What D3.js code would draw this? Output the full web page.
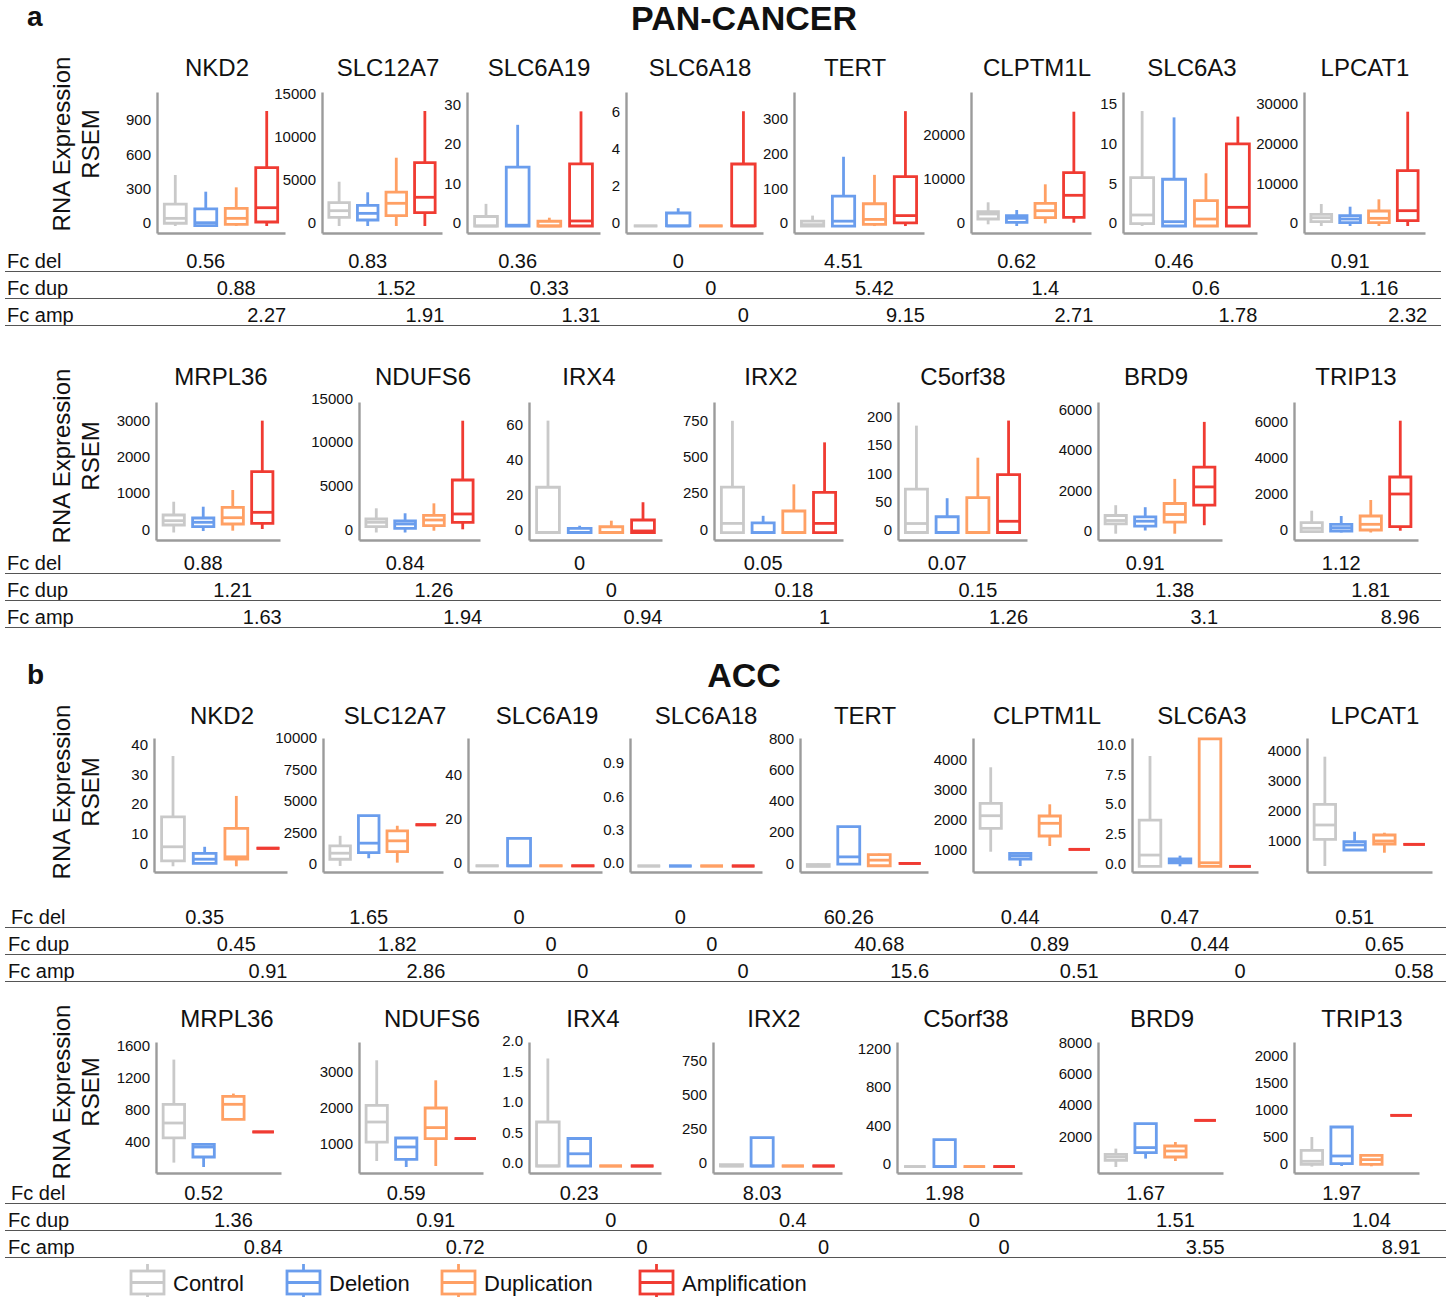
<!DOCTYPE html>
<html>
<head>
<meta charset="utf-8">
<script src="https://cdn.jsdelivr.net/npm/d3@7"></script>
<style>
  body { margin: 0; background: #fff; }
  svg { display: block; }
  text { font-family: "Liberation Sans", Arial, Helvetica, sans-serif; fill: #111; }
</style>
</head>
<body>
<svg id="fig" width="1455" height="1297"></svg>
<script>
// ---- categories ----
const groups = ["Control", "Deletion", "Duplication", "Amplification"];
const groupColors = ["#c9c9c9", "#6a9ded", "#ffa064", "#f03b32"];
const genesRow1 = ["NKD2", "SLC12A7", "SLC6A19", "SLC6A18", "TERT", "CLPTM1L", "SLC6A3", "LPCAT1"];
const genesRow2 = ["MRPL36", "NDUFS6", "IRX4", "IRX2", "C5orf38", "BRD9", "TRIP13"];
const fcLabels = ["Fc del", "Fc dup", "Fc amp"];

// ---- box statistics per gene: [min, q1, median, q3, max] for each group ----
const panRow1Stats = [
  [[0, 24, 67, 192, 446], [0, 3, 29, 149, 300], [0, 15, 67, 155, 338], [0, 35, 160, 510, 1005]],
  [[0, 1010, 1780, 2710, 5150], [0, 700, 1470, 2400, 3920], [0, 1200, 2640, 3950, 7940], [0, 1550, 3340, 7360, 13370]],
  [[0, 0, 0, 2.4, 5.6], [0, 0, 0.2, 14.9, 25.6], [0, 0, 0, 1.2, 2.1], [0, 0, 1.27, 15.7, 29]],
  [[0, 0, 0, 0, 0], [0, 0, 0, 0.7, 0.96], [0, 0, 0, 0, 0], [0, 0, 0, 3.35, 6.2]],
  [[0, 0, 4, 14, 30], [0, 0, 14, 86, 199], [0, 5, 19, 64, 147], [0, 9, 30, 142, 330]],
  [[380, 1580, 2710, 3230, 5350], [0, 830, 1740, 2330, 3610], [600, 1880, 3460, 5120, 9410], [750, 1960, 6930, 12030, 25800]],
  [[0, 0.3, 1.39, 6.1, 14.5], [0, 0, 0.55, 5.9, 13.7], [0, 0, 0.88, 3.2, 6.65], [0, 0, 2.36, 10.35, 13.8]],
  [[0, 1080, 2090, 2930, 5530], [0, 830, 1760, 2590, 4850], [0, 830, 1930, 3770, 6700], [0, 1330, 3850, 13900, 28720]]
];
const panRow2Stats = [
  [[0, 206, 324, 480, 845], [40, 160, 280, 398, 708], [50, 233, 406, 691, 1166], [96, 252, 554, 1670, 3070]],
  [[0, 664, 1168, 1546, 2770], [0, 481, 973, 1317, 2200], [206, 779, 1430, 1970, 3340], [366, 1168, 2120, 6010, 12800]],
  [[0, 0, 0, 26, 64.3], [0, 0, 0, 2.4, 3.9], [0, 0, 0, 3.3, 6.8], [0, 0, 0.9, 7.2, 17.4]],
  [[0, 0, 63, 312, 767], [0, 0, 0, 67, 115], [0, 0, 0, 148, 331], [0, 0, 63, 276, 619]],
  [[0, 0, 16, 77, 190], [0, 0, 0, 28, 61], [0, 0, 0, 62, 133], [0, 0, 20, 103, 199]],
  [[0, 484, 652, 900, 1409], [158, 371, 618, 830, 1310], [0, 568, 949, 1493, 2709], [420, 1409, 2313, 3287, 5527]],
  [[0, 45, 235, 548, 1219], [0, 84, 268, 458, 922], [0, 140, 458, 922, 1817], [100, 324, 2152, 3102, 6250]]
];
const accRow1Stats = [
  [[0, 1.8, 6.6, 16.7, 37.3], [1.0, 1.0, 2.4, 4.4, 6.6], [0, 2.4, 3.2, 12.8, 23.8], [6.1, 6.1, 6.1, 6.1, 6.1]],
  [[80, 612, 1090, 1670, 2466], [692, 1138, 1885, 4057, 4057], [342, 1217, 2068, 2864, 3262], [3341, 3341, 3341, 3341, 3341]],
  [[0, 0, 0, 0, 0], [0, 0, 0, 12.4, 12.4], [0, 0, 0, 0, 0], [0, 0, 0, 0, 0]],
  [[0, 0, 0, 0, 0], [0, 0, 0, 0, 0], [0, 0, 0, 0, 0], [0, 0, 0, 0, 0]],
  [[0, 0, 3, 12, 19], [15, 15, 61, 255, 255], [4, 4, 40, 76, 82], [19, 19, 19, 19, 19]],
  [[1043, 1823, 2243, 2657, 3857], [567, 800, 910, 990, 990], [1233, 1567, 1990, 2233, 2623], [1123, 1123, 1123, 1123, 1123]],
  [[0, 0, 0.95, 3.91, 9.32], [0, 0.3, 0.47, 0.62, 0.9], [0, 0, 0.3, 10.76, 10.76], [0, 0, 0, 0, 0]],
  [[245, 1141, 1621, 2315, 3913], [782, 782, 950, 1060, 1396], [691, 983, 1084, 1285, 1362], [973, 973, 973, 973, 973]]
];
const accRow2Stats = [
  [[171, 479, 666, 900, 1459], [116, 241, 366, 400, 400], [712, 712, 900, 1000, 1034], [554, 554, 554, 554, 554]],
  [[598, 1128, 1687, 2154, 3411], [430, 645, 989, 1240, 1240], [458, 1223, 1531, 2078, 2852], [1223, 1223, 1223, 1223, 1223]],
  [[0, 0, 0, 0.72, 1.76], [0, 0, 0.2, 0.45, 0.45], [0, 0, 0, 0, 0], [0, 0, 0, 0, 0]],
  [[0, 0, 0, 10, 10], [0, 0, 0, 207, 207], [0, 0, 0, 0, 0], [0, 0, 0, 0, 0]],
  [[0, 0, 0, 0, 0], [0, 0, 0, 282, 282], [0, 0, 0, 0, 0], [0, 0, 0, 0, 0]],
  [[224, 653, 864, 1037, 1402], [762, 1146, 1466, 3002, 3002], [608, 864, 1248, 1568, 1825], [3214, 3214, 3214, 3214, 3214]],
  [[0, 42, 98, 301, 547], [11, 55, 196, 731, 731], [6, 42, 129, 209, 209], [947, 947, 947, 947, 947]]
];

// ---- y axis tick labels and axis ranges per gene ----
const panRow1Ticks = [["0", "300", "600", "900"], ["0", "5000", "10000", "15000"], ["0", "10", "20", "30"], ["0", "2", "4", "6"],
  ["0", "100", "200", "300"], ["0", "10000", "20000"], ["0", "5", "10", "15"], ["0", "10000", "20000", "30000"]];
const panRow2Ticks = [["0", "1000", "2000", "3000"], ["0", "5000", "10000", "15000"], ["0", "20", "40", "60"], ["0", "250", "500", "750"],
  ["0", "50", "100", "150", "200"], ["0", "2000", "4000", "6000"], ["0", "2000", "4000", "6000"]];
const accRow1Ticks = [["0", "10", "20", "30", "40"], ["0", "2500", "5000", "7500", "10000"], ["0", "20", "40"], ["0.0", "0.3", "0.6", "0.9"],
  ["0", "200", "400", "600", "800"], ["1000", "2000", "3000", "4000"], ["0.0", "2.5", "5.0", "7.5", "10.0"], ["1000", "2000", "3000", "4000"]];
const accRow2Ticks = [["400", "800", "1200", "1600"], ["1000", "2000", "3000"], ["0.0", "0.5", "1.0", "1.5", "2.0"], ["0", "250", "500", "750"],
  ["0", "400", "800", "1200"], ["2000", "4000", "6000", "8000"], ["0", "500", "1000", "1500", "2000"]];

const panRow1Domains = [[-61, 1171], [-814, 15581], [-1.77, 33.9], [-0.38, 7.24], [-20, 385], [-1580, 30248], [-0.88, 16.9], [-1759, 33668]];
const panRow2Domains = [[-206, 3582], [-859, 14943], [-4.3, 75], [-51, 896], [-13.3, 232], [-311, 6510], [-419, 7295]];
const accRow1Domains = [[-1.93, 43.4], [-398, 10207], [-2.8, 57.8], [-0.054, 1.152], [-36, 823], [367, 4833], [-0.48, 10.84], [44, 4540]];
const accRow2Domains = [[41, 1679], [263, 3922], [-0.115, 2.03], [-51, 906], [-67, 1300], [-160, 8227], [-118, 2301]];

// ---- fold changes (del, dup, amp) per gene ----
const panRow1Fc = [
  ["0.56", "0.83", "0.36", "0", "4.51", "0.62", "0.46", "0.91"],
  ["0.88", "1.52", "0.33", "0", "5.42", "1.4", "0.6", "1.16"],
  ["2.27", "1.91", "1.31", "0", "9.15", "2.71", "1.78", "2.32"]
];
const panRow2Fc = [
  ["0.88", "0.84", "0", "0.05", "0.07", "0.91", "1.12"],
  ["1.21", "1.26", "0", "0.18", "0.15", "1.38", "1.81"],
  ["1.63", "1.94", "0.94", "1", "1.26", "3.1", "8.96"]
];
const accRow1Fc = [
  ["0.35", "1.65", "0", "0", "60.26", "0.44", "0.47", "0.51"],
  ["0.45", "1.82", "0", "0", "40.68", "0.89", "0.44", "0.65"],
  ["0.91", "2.86", "0", "0", "15.6", "0.51", "0", "0.58"]
];
const accRow2Fc = [
  ["0.52", "0.59", "0.23", "8.03", "1.98", "1.67", "1.97"],
  ["1.36", "0.91", "0", "0.4", "0", "1.51", "1.04"],
  ["0.84", "0.72", "0", "0", "0", "3.55", "8.91"]
];

// ---- page layout ----
const rows = [
  { genes: genesRow1, stats: panRow1Stats, ticks: panRow1Ticks, domains: panRow1Domains, fc: panRow1Fc,
    top: 92, bottom: 233,
    lefts: [157, 322, 467, 626, 794, 971, 1123, 1304], rights: [285, 442, 600, 763, 924, 1091, 1257, 1425],
    titleX: [217, 388, 539, 700, 855, 1037, 1192, 1365], titleY: 76, ylabY: 144,
    tableY: 268, tableEnd: 1441, labelX: [7, 7, 7] },
  { genes: genesRow2, stats: panRow2Stats, ticks: panRow2Ticks, domains: panRow2Domains, fc: panRow2Fc,
    top: 402, bottom: 540,
    lefts: [156, 359, 529, 714, 898, 1098, 1294], rights: [280, 480, 662, 843, 1027, 1222, 1418],
    titleX: [221, 423, 589, 771, 963, 1156, 1356], titleY: 385, ylabY: 456,
    tableY: 570, tableEnd: 1441, labelX: [7, 7, 7] },
  { genes: genesRow1, stats: accRow1Stats, ticks: accRow1Ticks, domains: accRow1Domains, fc: accRow1Fc,
    top: 738, bottom: 872,
    lefts: [154, 323, 468, 630, 800, 973, 1132, 1307], rights: [287, 443, 602, 762, 928, 1097, 1258, 1432],
    titleX: [222, 395, 547, 706, 865, 1047, 1202, 1375], titleY: 724, ylabY: 792,
    tableY: 924, tableEnd: 1446, labelX: [11, 8, 8] },
  { genes: genesRow2, stats: accRow2Stats, ticks: accRow2Ticks, domains: accRow2Domains, fc: accRow2Fc,
    top: 1042, bottom: 1173,
    lefts: [156, 359, 529, 713, 897, 1098, 1294], rights: [281, 483, 661, 842, 1022, 1223, 1419],
    titleX: [227, 432, 593, 774, 966, 1162, 1362], titleY: 1027, ylabY: 1092,
    tableY: 1200, tableEnd: 1446, labelX: [11, 8, 8] }
];

const svg = d3.select("#fig");
const axisColor = "#9b9b9b";
const boxStroke = 2.8;

// panel letters and headings
svg.append("text").attr("x", 27).attr("y", 26).attr("font-size", 28).attr("font-weight", "bold").text("a");
svg.append("text").attr("x", 744).attr("y", 30).attr("font-size", 34).attr("font-weight", "bold")
  .attr("text-anchor", "middle").text("PAN-CANCER");
svg.append("text").attr("x", 27).attr("y", 684).attr("font-size", 28).attr("font-weight", "bold").text("b");
svg.append("text").attr("x", 744).attr("y", 687).attr("font-size", 34).attr("font-weight", "bold")
  .attr("text-anchor", "middle").text("ACC");

rows.forEach(row => {
  // shared y-axis title
  const yl = svg.append("g");
  yl.append("text").attr("transform", `translate(70,${row.ylabY}) rotate(-90)`)
    .attr("text-anchor", "middle").attr("font-size", 24).text("RNA Expression");
  yl.append("text").attr("transform", `translate(99,${row.ylabY}) rotate(-90)`)
    .attr("text-anchor", "middle").attr("font-size", 24).text("RSEM");

  const xScales = [];
  row.genes.forEach((gene, i) => {
    const g = svg.append("g");
    const x = d3.scalePoint().domain(groups).range([row.lefts[i], row.rights[i]]).padding(0.6);
    const y = d3.scaleLinear().domain(row.domains[i]).range([row.bottom, row.top]);
    xScales.push(x);
    const bw = x.step() * 0.72;

    // y axis
    const tickLabels = row.ticks[i];
    const ya = g.append("g").attr("transform", `translate(${row.lefts[i]},0)`)
      .call(d3.axisLeft(y).tickValues(tickLabels.map(Number)).tickSize(0).tickSizeOuter(0).tickPadding(6)
        .tickFormat((d, k) => tickLabels[k]));
    ya.select(".domain").attr("stroke", axisColor).attr("stroke-width", 2.4);
    ya.selectAll(".tick text").attr("font-size", 15).attr("dy", "0.12em").style("fill", "#111")
      .attr("font-family", "Liberation Sans, Arial, sans-serif");

    // x axis (line only)
    const xa = g.append("g").attr("transform", `translate(0,${row.bottom})`)
      .call(d3.axisBottom(x).tickValues([]).tickSizeOuter(0));
    xa.select(".domain").attr("stroke", axisColor).attr("stroke-width", 2.4);

    // title
    g.append("text").attr("x", row.titleX[i]).attr("y", row.titleY).attr("text-anchor", "middle")
      .attr("font-size", 24).text(gene);

    // boxes
    row.stats[i].forEach((s, k) => {
      const [mn, q1, md, q3, mx] = s;
      const cx = x(groups[k]);
      const col = groupColors[k];
      const bg = g.append("g").attr("stroke", col).attr("stroke-width", boxStroke).attr("fill", "none");
      if (mx > q3) bg.append("line").attr("x1", cx).attr("x2", cx).attr("y1", y(q3)).attr("y2", y(mx));
      if (mn < q1) bg.append("line").attr("x1", cx).attr("x2", cx).attr("y1", y(q1)).attr("y2", y(mn));
      const x0 = cx - bw / 2, x1 = cx + bw / 2;
      bg.append("path").attr("fill", "#fff")
        .attr("d", `M${x0},${y(q1)}H${x1}V${y(q3)}H${x0}Z`);
      bg.append("line").attr("x1", x0).attr("x2", x1).attr("y1", y(md)).attr("y2", y(md));
    });
  });

  // fold-change table
  const tg = svg.append("g");
  fcLabels.forEach((lab, r) => {
    const by = row.tableY + r * 27;
    tg.append("text").attr("x", row.labelX[r]).attr("y", by).attr("font-size", 20).text(lab);
    tg.append("line").attr("x1", 5).attr("x2", row.tableEnd).attr("y1", by + 3.5).attr("y2", by + 3.5)
      .attr("stroke", "#555").attr("stroke-width", 1);
    row.fc[r].forEach((v, i) => {
      tg.append("text").attr("x", xScales[i](groups[r + 1])).attr("y", by)
        .attr("text-anchor", "middle").attr("font-size", 20).text(v);
    });
  });
});

// legend
const legendX = [131, 287, 442, 640];
const lg = svg.append("g");
groups.forEach((name, k) => {
  const x0 = legendX[k], w = 33, cx = x0 + w / 2;
  const col = groupColors[k];
  const ig = lg.append("g").attr("stroke", col).attr("stroke-width", boxStroke).attr("fill", "none");
  ig.append("line").attr("x1", cx).attr("x2", cx).attr("y1", 1264).attr("y2", 1300);
  ig.append("rect").attr("x", x0).attr("y", 1271).attr("width", w).attr("height", 23).attr("fill", "#fff");
  ig.append("line").attr("x1", x0).attr("x2", x0 + w).attr("y1", 1282.5).attr("y2", 1282.5);
  lg.append("text").attr("x", x0 + w + 9).attr("y", 1291).attr("font-size", 22).text(name);
});
</script>
</body>
</html>
